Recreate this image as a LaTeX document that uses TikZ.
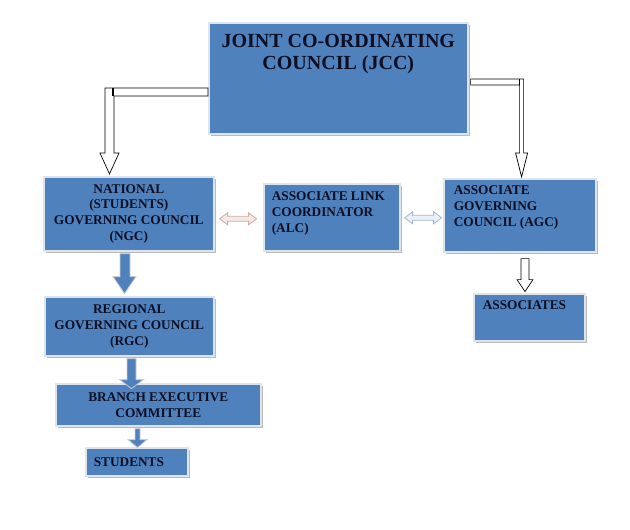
\documentclass[tikz,border=0pt]{standalone}
\usepackage{fontspec}
\setmainfont{Liberation Serif}
\usetikzlibrary{calc,shadows}
\definecolor{boxblue}{RGB}{79,129,189}
\definecolor{boxedge}{RGB}{222,228,238}
\definecolor{txtc}{RGB}{12,15,35}
\definecolor{dblLdraw}{RGB}{214,170,158}
\definecolor{dblLfill}{RGB}{242,234,232}
\definecolor{dblRdraw}{RGB}{165,182,210}
\definecolor{dblRfill}{RGB}{234,240,248}
\begin{document}
\begin{tikzpicture}[x=1pt,y=-1pt,
  box/.style={draw=boxedge, line width=1.6pt, fill=boxblue, inner sep=0pt, anchor=north west,
    text=txtc, font=\bfseries\fontsize{13.3}{15.8}\selectfont,
    drop shadow={shadow xshift=1.8pt, shadow yshift=-1.8pt, fill=black!45, opacity=0.6}},
  bigbox/.style={box, font=\bfseries\fontsize{20}{22}\selectfont},
  whitearrow/.style={draw=black, fill=white, line width=0.7pt, line join=miter},
  bluearrow/.style={draw=black!20, fill=boxblue, line width=0.8pt, line join=miter},
  dblL/.style={draw=dblLdraw, fill=dblLfill, line width=0.8pt},
  dblR/.style={draw=dblRdraw, fill=dblRfill, line width=0.8pt}]
\useasboundingbox (0,0) rectangle (630,530);
\fill[white] (0,0) rectangle (630,530);

% boxes
\node[bigbox] (jcc) at (208,22) {\parbox[c][111pt][t]{259pt}{\vspace*{11pt}\centering JOINT CO-ORDINATING\\COUNCIL (JCC)}};
\node[box] (ngc) at (43,176) {\parbox[c][74pt][c]{170pt}{\centering NATIONAL\\(STUDENTS)\\GOVERNING COUNCIL\\(NGC)}};
\node[box] (alc) at (263,183) {\parbox[c][67pt][t]{136pt}{\vspace*{8pt}\hspace*{8pt}\parbox[t]{126pt}{\raggedright ASSOCIATE LINK\\COORDINATOR\\(ALC)}}};
\node[box] (agc) at (443,178) {\parbox[c][73pt][t]{152pt}{\vspace*{7pt}\hspace*{10pt}\parbox[t]{140pt}{\raggedright ASSOCIATE\\GOVERNING\\COUNCIL (AGC)}}};
\node[box] (rgc) at (44,296) {\parbox[c][59pt][c]{169pt}{\centering REGIONAL\\GOVERNING COUNCIL\\(RGC)}};
\node[box] (bec) at (55,383) {\parbox[c][42pt][c]{205pt}{\centering BRANCH EXECUTIVE\\COMMITTEE}};
\node[box] (stu) at (85,447) {\parbox[c][28pt][c]{102pt}{\hspace*{8pt}STUDENTS}};
\node[box] (asc) at (473,293) {\parbox[c][47pt][t]{111pt}{\vspace*{7pt}\hspace*{9pt}ASSOCIATES}};

% JCC -> NGC (bent block arrow)
\draw[whitearrow] ($(jcc.north west)+(0,66)$) -- ++(-103,0) -- ++(0,65) -- ++(-5,0)
  -- ++(9.5,21) -- ++(9.5,-21) -- ++(-5,0) -- ++(0,-57) -- ++(94,0) -- cycle;
\draw[line width=1.6pt] ($(jcc.north west)+(-95,66)$) -- ++(0,8);

% JCC -> AGC (bent block arrow)
\draw[whitearrow] ($(jcc.north east)+(2,57)$) -- ++(53,0) -- ++(0,74) -- ++(4,0)
  -- ++(-6,24) -- ++(-6,-24) -- ++(4,0) -- ++(0,-68) -- ++(-49,0) -- cycle;
\draw[line width=1.6pt] ($(jcc.north east)+(51,57)$) -- ++(0,6);

% AGC -> ASSOCIATES
\draw[whitearrow] ($(agc.south west)+(78,6)$) -- ++(8,0) -- ++(0,21) -- ++(4,0)
  -- ++(-8,12) -- ++(-8,-12) -- ++(4,0) -- cycle;

% NGC -> RGC
\draw[bluearrow] ($(ngc.south west)+(77,2)$) -- ++(10,0) -- ++(0,23) -- ++(6,0)
  -- ++(-11.5,17) -- ++(-11.5,-17) -- ++(7,0) -- cycle;
% RGC -> BEC
\draw[bluearrow] ($(rgc.south west)+(83,2)$) -- ++(9,0) -- ++(0,21) -- ++(7.5,0)
  -- ++(-12,9) -- ++(-12,-9) -- ++(7.5,0) -- cycle;
% BEC -> STUDENTS
\draw[bluearrow] ($(bec.south west)+(80,2)$) -- ++(5,0) -- ++(0,11) -- ++(7,0)
  -- ++(-9.5,8) -- ++(-9.5,-8) -- ++(7,0) -- cycle;

% NGC <-> ALC
\draw[dblL] ($(ngc.east)+(5,5)$) -- ++(8,-6) -- ++(0,3.5) -- ++(21,0) -- ++(0,-3.5)
  -- ++(8,6) -- ++(-8,6) -- ++(0,-3.5) -- ++(-21,0) -- ++(0,3.5) -- cycle;
% ALC <-> AGC
\draw[dblR] ($(alc.east)+(4,0.5)$) -- ++(8,-6) -- ++(0,3.5) -- ++(21,0) -- ++(0,-3.5)
  -- ++(8,6) -- ++(-8,6) -- ++(0,-3.5) -- ++(-21,0) -- ++(0,3.5) -- cycle;
\end{tikzpicture}
\end{document}
